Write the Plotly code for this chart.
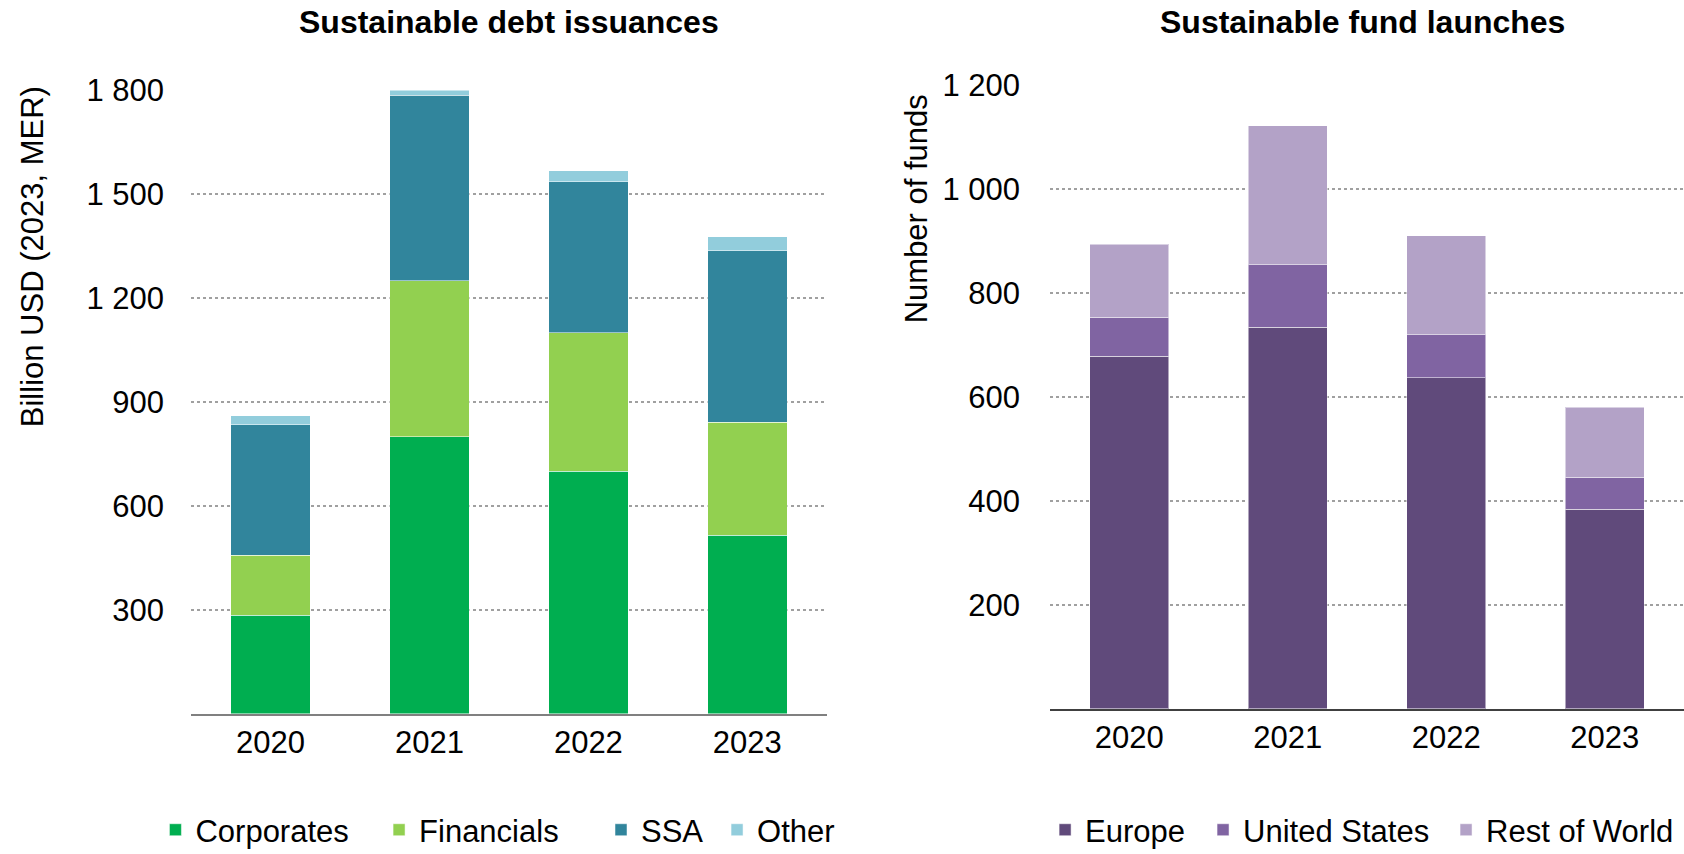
import plotly.graph_objects as go

years = ["2020", "2021", "2022", "2023"]

# Sustainable debt issuances (billion USD, 2023 MER)
corporates = [285, 800, 700, 515]
financials = [173, 450, 400, 326]
ssa = [377, 535, 436, 495]
other = [25, 15, 31, 40]

# Sustainable fund launches (number of funds)
europe = [678, 734, 637, 384]
united_states = [75, 120, 83, 62]
rest_of_world = [141, 268, 190, 134]

debt_ticks = [300, 600, 900, 1200, 1500, 1800]
debt_ticktext = ["300", "600", "900", "1 200", "1 500", "1 800"]
fund_ticks = [200, 400, 600, 800, 1000, 1200]
fund_ticktext = ["200", "400", "600", "800", "1 000", "1 200"]

FONT = "Liberation Sans, Arial, sans-serif"
FS = 31

fig = go.Figure()

debt_series = [
    ("Corporates", corporates, "#00AE50", 0.0923),
    ("Financials", financials, "#92D050", 0.2251),
    ("SSA", ssa, "#31859C", 0.3569),
    ("Other", other, "#92CDDC", 0.4258),
]
fund_series = [
    ("Europe", europe, "#604A7B", 0.6206),
    ("United States", united_states, "#8064A2", 0.7144),
    ("Rest of World", rest_of_world, "#B3A2C7", 0.8587),
]

legend_layouts = {}
n = 1


def legend_cfg(lx):
    return dict(x=lx, y=0.028, xanchor="left", yanchor="middle",
                orientation="h", font=dict(family=FONT, size=FS, color="#000"),
                bgcolor="rgba(0,0,0,0)", itemwidth=30, tracegroupgap=0)


for name, vals, color, lx in debt_series:
    lname = "legend" if n == 1 else f"legend{n}"
    fig.add_trace(go.Bar(
        x=years, y=vals, name=name, marker_color=color,
        marker_line=dict(width=1, color="rgba(255,255,255,0.5)"),
        xaxis="x", yaxis="y", legend=lname,
    ))
    legend_layouts[lname] = legend_cfg(lx)
    n += 1
for name, vals, color, lx in fund_series:
    lname = f"legend{n}"
    fig.add_trace(go.Bar(
        x=years, y=vals, name=name, marker_color=color,
        marker_line=dict(width=1, color="rgba(255,255,255,0.5)"),
        xaxis="x2", yaxis="y2", legend=lname,
    ))
    legend_layouts[lname] = legend_cfg(lx)
    n += 1

axis_font = dict(family=FONT, size=FS, color="#000")

fig.update_layout(
    width=1684, height=854,
    margin=dict(l=0, r=0, t=0, b=0, autoexpand=False),
    paper_bgcolor="white", plot_bgcolor="white",
    barmode="stack", bargap=0.5,
    font=dict(family=FONT, size=FS, color="#000"),
    showlegend=True,
    xaxis=dict(domain=[0.1134, 0.491], anchor="y", showline=True, linecolor="#808080",
               linewidth=2, showgrid=False, tickfont=axis_font, ticks="",
               ticklabelstandoff=0, automargin=False),
    yaxis=dict(domain=[0.164, 0.8946], anchor="x", range=[0, 1800],
               tickvals=debt_ticks, ticktext=debt_ticktext, tickfont=axis_font,
               showgrid=True, gridcolor="#A0A0A0", gridwidth=2, griddash="dot",
               zeroline=False, showline=False, ticks="", ticklabelstandoff=26,
               automargin=False),
    xaxis2=dict(domain=[0.6235, 1.0], anchor="y2", showline=True, linecolor="#404040",
                linewidth=1.5, showgrid=False, tickfont=axis_font, ticks="",
                ticklabelstandoff=0, automargin=False),
    yaxis2=dict(domain=[0.1698, 0.9005], anchor="x2", range=[0, 1200],
                tickvals=fund_ticks, ticktext=fund_ticktext, tickfont=axis_font,
                showgrid=True, gridcolor="#A0A0A0", gridwidth=2, griddash="dot",
                zeroline=False, showline=False, ticks="", ticklabelstandoff=29,
                automargin=False),
    **legend_layouts,
)

annotations = [
    dict(text="<b>Sustainable debt issuances</b>", x=0.302, y=0.974, xref="paper", yref="paper",
         showarrow=False, xanchor="center", yanchor="middle", font=dict(family=FONT, size=32, color="#000")),
    dict(text="<b>Sustainable fund launches</b>", x=0.809, y=0.974, xref="paper", yref="paper",
         showarrow=False, xanchor="center", yanchor="middle", font=dict(family=FONT, size=32, color="#000")),
    dict(text="Billion USD (2023, MER)", x=0.019, y=0.700, xref="paper", yref="paper",
         showarrow=False, xanchor="center", yanchor="middle", textangle=-90, font=axis_font),
    dict(text="Number of funds", x=0.544, y=0.755, xref="paper", yref="paper",
         showarrow=False, xanchor="center", yanchor="middle", textangle=-90, font=axis_font),
]
fig.update_layout(annotations=annotations)

fig.write_html("out.html", config={"displayModeBar": False},
               post_script="document.body.style.margin='0';")
